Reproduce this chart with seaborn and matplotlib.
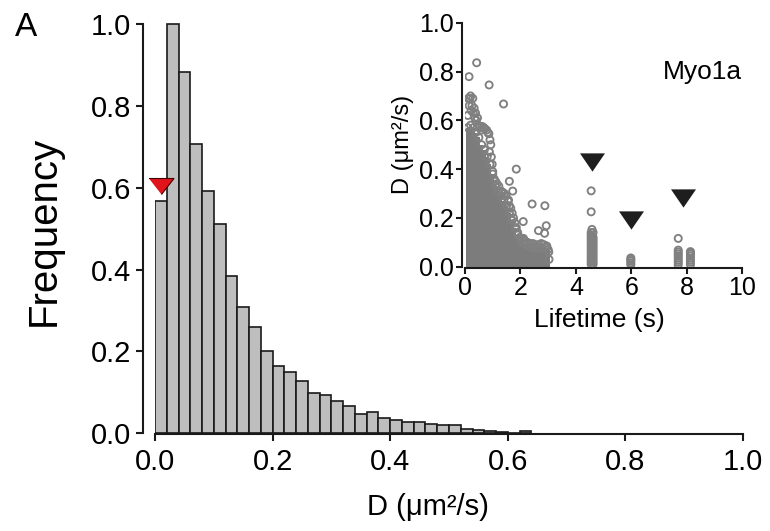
import numpy as np
import pandas as pd
import matplotlib
matplotlib.use("Agg")
import matplotlib.pyplot as plt
import seaborn as sns

# ---------------- data: main histogram ----------------
bin_width = 0.02
hist_freq = [0.568, 1.000, 0.883, 0.707, 0.593, 0.511, 0.385, 0.309, 0.259, 0.201,
             0.165, 0.150, 0.127, 0.098, 0.094, 0.078, 0.067, 0.046, 0.051, 0.036,
             0.031, 0.027, 0.027, 0.023, 0.020, 0.020, 0.009, 0.007, 0.004, 0.003,
             0.001, 0.004]
peak_d = [0.0097]
peak_f = [0.605]
main_ticks = [0.0, 0.2, 0.4, 0.6, 0.8, 1.0]
main_ticklabels = ["0.0", "0.2", "0.4", "0.6", "0.8", "1.0"]

# ---------------- data: inset scatter ----------------
# dense core of overlapping points: column lifetime (s) and top of the solid mass
col_lifetime = [0.1, 0.2, 0.3, 0.4, 0.5, 0.6, 0.7, 0.8, 0.9, 1.0,
                1.1, 1.2, 1.3, 1.4, 1.5, 1.6, 1.7, 1.8, 1.9, 2.0,
                2.1, 2.2, 2.3, 2.4, 2.5, 2.6, 2.7, 2.8, 2.9, 3.0]
col_top = [0.57, 0.58, 0.57, 0.55, 0.53, 0.50, 0.48, 0.45, 0.42, 0.38,
           0.33, 0.31, 0.29, 0.27, 0.25, 0.22, 0.19, 0.16, 0.13, 0.105,
           0.095, 0.09, 0.085, 0.08, 0.08, 0.075, 0.08, 0.075, 0.08, 0.07]

# individually visible points (edge of mass, outliers, late clusters)
pt_lifetime = [0.10, 0.12, 0.15, 0.18, 0.20, 0.22, 0.25, 0.28, 0.30, 0.33,
               0.35, 0.38, 0.40, 0.45, 0.48, 0.52, 0.58, 0.62, 0.68, 0.72,
               0.78, 0.82, 0.86, 0.90, 0.93, 0.88, 0.95, 0.98, 1.00, 1.05,
               1.10, 1.15, 1.22, 1.30, 1.36, 1.42, 1.48, 1.55, 1.60, 1.65,
               1.70, 1.75, 1.80, 1.85, 1.90, 1.97, 2.05, 2.15, 2.25, 2.35,
               2.45, 2.55, 2.65, 2.75, 2.85, 2.95, 3.02, 3.03,
               0.42, 0.145, 0.87, 1.39, 1.85, 1.60, 1.72, 1.57, 2.42, 2.88,
               2.93, 2.65, 2.10, 2.11, 2.87,
               4.55, 4.55, 4.55, 4.55, 4.55, 4.55, 4.55,
               4.55, 4.55, 4.55, 4.55, 4.55, 4.55, 4.55,
               4.62, 4.62, 4.62, 4.62, 4.62, 4.62, 4.62,
               4.62, 4.62, 4.62, 4.62, 4.62, 4.62,
               4.58, 4.55, 4.55,
               5.98, 5.98, 5.98, 5.98, 5.98,
               7.69, 7.69, 7.69, 7.69, 7.69, 7.69, 7.69, 7.69, 7.69,
               8.13, 8.13, 8.13, 8.13, 8.13, 8.13, 8.13, 8.13]
pt_d = [0.62, 0.69, 0.66, 0.69, 0.70, 0.64, 0.66, 0.69, 0.63, 0.65,
        0.61, 0.63, 0.60, 0.61, 0.58, 0.57, 0.56, 0.575, 0.57, 0.565,
        0.56, 0.55, 0.545, 0.52, 0.50, 0.47, 0.45, 0.42, 0.39, 0.36,
        0.35, 0.34, 0.33, 0.31, 0.305, 0.30, 0.29, 0.27, 0.25, 0.24,
        0.22, 0.20, 0.18, 0.16, 0.14, 0.12, 0.115, 0.105, 0.10, 0.095,
        0.095, 0.09, 0.09, 0.095, 0.09, 0.085, 0.06, 0.03,
        0.836, 0.779, 0.745, 0.667, 0.40, 0.35, 0.31, 0.273, 0.257, 0.25,
        0.168, 0.148, 0.185, 0.116, 0.137,
        0.01, 0.03, 0.05, 0.07, 0.09, 0.11, 0.13,
        0.02, 0.04, 0.06, 0.08, 0.10, 0.12, 0.14,
        0.02, 0.04, 0.06, 0.08, 0.10, 0.12, 0.14,
        0.01, 0.03, 0.05, 0.07, 0.09, 0.11,
        0.153, 0.225, 0.311,
        0.008, 0.016, 0.024, 0.030, 0.036,
        0.008, 0.018, 0.026, 0.035, 0.044, 0.052, 0.060, 0.068, 0.116,
        0.008, 0.018, 0.026, 0.035, 0.044, 0.052, 0.058, 0.062]
arrow_lifetime = [4.57, 5.98, 7.88]
arrow_d = [0.43, 0.19, 0.28]
inset_xticks = [0, 2, 4, 6, 8, 10]
inset_yticks = [0.0, 0.2, 0.4, 0.6, 0.8, 1.0]
inset_yticklabels = ["0.0", "0.2", "0.4", "0.6", "0.8", "1.0"]

# ---------------- style ----------------
sns.set_theme(style="ticks")
plt.rcParams["font.family"] = ["Liberation Sans", "DejaVu Sans"]
plt.rcParams["axes.linewidth"] = 1.5
plt.rcParams["xtick.major.width"] = 1.5
plt.rcParams["ytick.major.width"] = 1.5
for key in ("text.color", "axes.labelcolor", "xtick.color", "ytick.color",
            "xtick.labelcolor", "ytick.labelcolor", "axes.edgecolor"):
    plt.rcParams[key] = "black"

BAR_FILL = "#bebebe"
EDGE = "#1a1a1a"
GRAY = "#7c7c7c"
RING = "#808080"

fig = plt.figure(figsize=(7.7, 5.31), dpi=100)

# ---------------- main histogram ----------------
ax = fig.add_axes([0.2013, 0.1846, 0.7636, 0.7727])
hist_df = pd.DataFrame({
    "D": np.arange(len(hist_freq)) * bin_width + bin_width / 2,
    "freq": hist_freq,
})
sns.histplot(data=hist_df, x="D", weights="freq", binwidth=bin_width,
             binrange=(0, bin_width * len(hist_freq)), stat="count",
             color=BAR_FILL, edgecolor=EDGE, linewidth=1.2, alpha=1.0, ax=ax)

tri_verts = [(-1, 0.64), (1, 0.64), (0, -0.64)]
ax.scatter(peak_d, peak_f, marker=tri_verts, s=18 ** 2, color="#e0141a",
           edgecolor="#400000", linewidth=0.8, zorder=5, clip_on=False)

ax.set_xlim(0, 1.0)
ax.set_ylim(0, 1.004)
ax.set_xticks(main_ticks)
ax.set_xticklabels(main_ticklabels)
ax.set_yticks(main_ticks)
ax.set_yticklabels(main_ticklabels)
ax.tick_params(axis="both", labelsize=21, length=5, color=EDGE)
ax.tick_params(axis="x", pad=5)
ax.tick_params(axis="y", pad=3)
sns.despine(ax=ax)
ax.spines["left"].set_position(("outward", 9))
ax.spines["bottom"].set_position(("outward", 1))
ax.spines["left"].set_bounds(0, 1.0)
ax.spines["bottom"].set_bounds(0, 1.0)
for s in ("left", "bottom"):
    ax.spines[s].set_color(EDGE)

ax.set_ylabel("Frequency", fontsize=29, va="center")
ax.yaxis.set_label_coords(-0.19, 0.492)
ax.set_xlabel("D (μm²/s)", fontsize=21, va="center")
ax.xaxis.set_label_coords(0.464, -0.18)

fig.text(0.0195, 0.949, "A", fontsize=24, ha="left", va="center")

# ---------------- inset scatter ----------------
ax2 = fig.add_axes([0.6039, 0.4977, 0.3601, 0.4595])
ax2.set_facecolor("none")
core_df = pd.DataFrame({"t": col_lifetime, "top": col_top})
sns.histplot(data=core_df, x="t", weights="top", binwidth=0.1,
             binrange=(0.05, 3.05), stat="count", color=GRAY, alpha=1.0,
             linewidth=0, ax=ax2)
pts_df = pd.DataFrame({"t": pt_lifetime, "D": pt_d})
ax2.scatter(pts_df["t"], pts_df["D"], s=26, facecolors="none",
            edgecolors=RING, linewidths=1.35, zorder=3)
ax2.scatter(col_lifetime, col_top, s=26, facecolors="none",
            edgecolors=RING, linewidths=1.35, zorder=3)
arrow_verts = [(-1, 0.73), (1, 0.73), (0, -0.73)]
ax2.scatter(arrow_lifetime, arrow_d, marker=arrow_verts, s=18 ** 2,
            color="#1e1e1e", linewidth=0, zorder=4)

ax2.set_xlim(0, 10)
ax2.set_ylim(0, 1.0)
ax2.set_xticks(inset_xticks)
ax2.set_yticks(inset_yticks)
ax2.set_yticklabels(inset_yticklabels)
ax2.tick_params(axis="both", labelsize=18, length=4, pad=2, color=EDGE)
sns.despine(ax=ax2)
ax2.spines["left"].set_position(("outward", 2))
ax2.spines["bottom"].set_position(("outward", 1))
for s in ("left", "bottom"):
    ax2.spines[s].set_color(EDGE)
ax2.set_ylabel("D (μm²/s)", fontsize=17, va="center")
ax2.yaxis.set_label_coords(-0.224, 0.5)
ax2.set_xlabel("Lifetime (s)", fontsize=19, va="center")
ax2.xaxis.set_label_coords(0.483, -0.218)
ax2.text(8.55, 0.80, "Myo1a", fontsize=19, ha="center", va="center")

fig.savefig("out.png", dpi=100)
